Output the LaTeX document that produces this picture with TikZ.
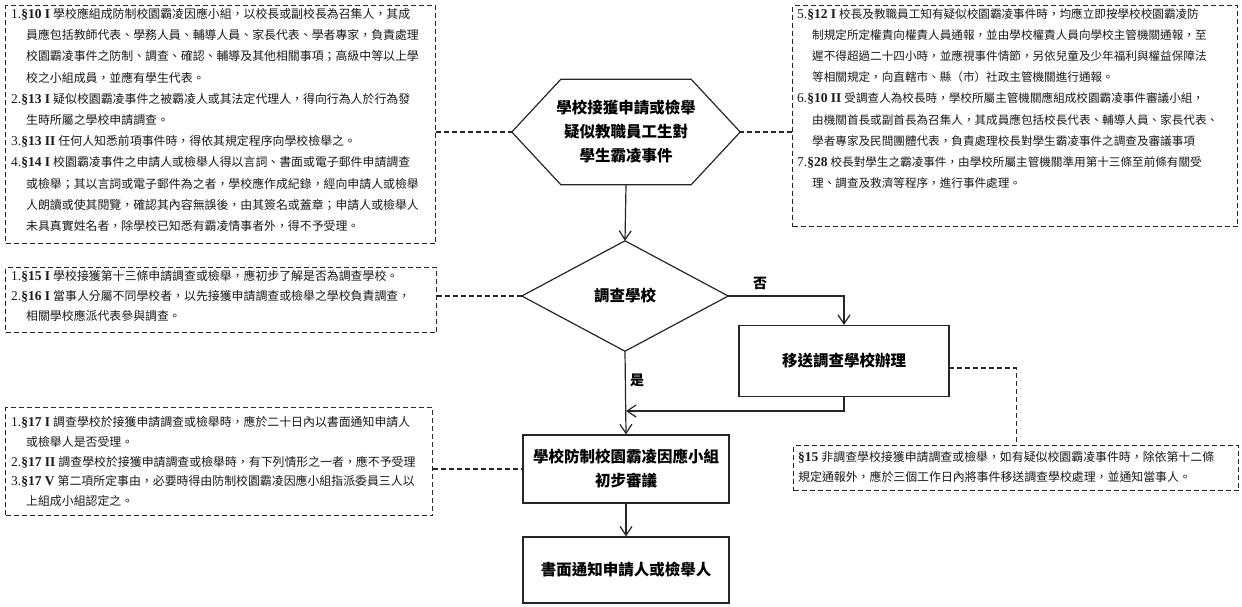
\documentclass[tikz,border=0pt]{standalone}
\usepackage{fontspec}
\setmainfont{Noto Sans CJK TC}
\newfontfamily\latf{Liberation Serif}
\usetikzlibrary{arrows.meta}
\newcommand{\pfx}[2]{{\latf\fontsize{13.5}{13.5}\selectfont #1\textbf{#2}}\hspace{3pt}}
\newcommand{\ind}{\hspace*{15pt}}
\begin{document}
\begin{tikzpicture}[x=1pt,y=-1pt,
  notebox/.style={draw=black!85, dash pattern=on 5pt off 3pt, line width=1.1pt, anchor=north west, inner sep=0pt},
  notetext/.style={anchor=north west, inner sep=0pt, align=left, text=black!90},
  flowbox/.style={draw=black!85, line width=1.2pt, inner sep=0pt, align=center, font=\fontsize{15.5}{24}\selectfont\bfseries},
  shapebox/.style={inner sep=0pt, align=center, font=\fontsize{15.5}{24}\selectfont\bfseries},
  outline/.style={draw=black!85, line width=1.2pt, line join=miter},
  arr/.style={draw=black!85, line width=1.2pt, -{Straight Barb[length=9pt,width=12pt]}},
  dl/.style={draw=black!85, line width=1.1pt, dash pattern=on 5pt off 3pt},
  lbl/.style={inner sep=0pt, font=\fontsize{14}{14}\selectfont\bfseries}
]
\useasboundingbox (0,0) rectangle (1242,606);

% ---------- note boxes ----------
\node[notebox, minimum width=430pt, minimum height=238pt] (n1) at (5,5) {};
\node[notetext, font=\fontsize{11.9}{21.2}\selectfont] (t1) at (11,8) {%
\pfx{1.}{§10 I}學校應組成防制校園霸凌因應小組，以校長或副校長為召集人，其成\\
\ind 員應包括教師代表、學務人員、輔導人員、家長代表、學者專家，負責處理\\
\ind 校園霸凌事件之防制、調查、確認、輔導及其他相關事項；高級中等以上學\\
\ind 校之小組成員，並應有學生代表。\\
\pfx{2.}{§13 I}疑似校園霸凌事件之被霸凌人或其法定代理人，得向行為人於行為發\\
\ind 生時所屬之學校申請調查。\\
\pfx{3.}{§13 II}任何人知悉前項事件時，得依其規定程序向學校檢舉之。\\
\pfx{4.}{§14 I}校園霸凌事件之申請人或檢舉人得以言詞、書面或電子郵件申請調查\\
\ind 或檢舉；其以言詞或電子郵件為之者，學校應作成紀錄，經向申請人或檢舉\\
\ind 人朗讀或使其閱覽，確認其內容無誤後，由其簽名或蓋章；申請人或檢舉人\\
\ind 未具真實姓名者，除學校已知悉有霸凌情事者外，得不予受理。};

\node[notebox, minimum width=445pt, minimum height=221pt] (n2) at (792,5) {};
\node[notetext, font=\fontsize{11.6}{21.2}\selectfont] (t2) at (797,8) {%
\pfx{5.}{§12 I}校長及教職員工知有疑似校園霸凌事件時，均應立即按學校校園霸凌防\\
\ind 制規定所定權責向權責人員通報，並由學校權責人員向學校主管機關通報，至\\
\ind 遲不得超過二十四小時，並應視事件情節，另依兒童及少年福利與權益保障法\\
\ind 等相關規定，向直轄市、縣（市）社政主管機關進行通報。\\
\pfx{6.}{§10 II}受調查人為校長時，學校所屬主管機關應組成校園霸凌事件審議小組，\\
\ind 由機關首長或副首長為召集人，其成員應包括校長代表、輔導人員、家長代表、\\
\ind 學者專家及民間團體代表，負責處理校長對學生霸凌事件之調查及審議事項\\
\pfx{7.}{§28}校長對學生之霸凌事件，由學校所屬主管機關準用第十三條至前條有關受\\
\ind 理、調查及救濟等程序，進行事件處理。};

\node[notebox, minimum width=431pt, minimum height=65pt] (n3) at (5,267) {};
\node[notetext, font=\fontsize{11.9}{20}\selectfont] (t3) at (11,270) {%
\pfx{1.}{§15 I}學校接獲第十三條申請調查或檢舉，應初步了解是否為調查學校。\\
\pfx{2.}{§16 I}當事人分屬不同學校者，以先接獲申請調查或檢舉之學校負責調查，\\
\ind 相關學校應派代表參與調查。};

\node[notebox, minimum width=427pt, minimum height=108pt] (n4) at (5,407) {};
\node[notetext, font=\fontsize{11.9}{19.8}\selectfont] (t4) at (11,416) {%
\pfx{1.}{§17 I}調查學校於接獲申請調查或檢舉時，應於二十日內以書面通知申請人\\
\ind 或檢舉人是否受理。\\
\pfx{2.}{§17 II}調查學校於接獲申請調查或檢舉時，有下列情形之一者，應不予受理\\
\pfx{3.}{§17 V}第二項所定事由，必要時得由防制校園霸凌因應小組指派委員三人以\\
\ind 上組成小組認定之。};

\node[notebox, minimum width=445pt, minimum height=45pt] (n5) at (793,445) {};
\node[notetext, font=\fontsize{11.9}{20}\selectfont] (t5) at (798,451) {%
\pfx{}{§15}非調查學校接獲申請調查或檢舉，如有疑似校園霸凌事件時，除依第十二條\\
規定通報外，應於三個工作日內將事件移送調查學校處理，並通知當事人。};

% ---------- flow shapes ----------
\node[shapebox, minimum width=228pt, minimum height=105pt] (hex) at (626,132)
  {學校接獲申請或檢舉\\疑似教職員工生對\\學生霸凌事件};
\draw[outline] (hex.west) -- ([xshift=49pt]hex.north west) -- ([xshift=-49pt]hex.north east)
  -- (hex.east) -- ([xshift=-49pt]hex.south east) -- ([xshift=49pt]hex.south west) -- cycle;

\node[shapebox, minimum width=206pt, minimum height=110pt] (dia) at (625,296) {調查學校};
\draw[outline] (dia.west) -- (dia.north) -- (dia.east) -- (dia.south) -- cycle;

\node[flowbox, minimum width=210pt, minimum height=71pt] (b1) at (844,361) {移送調查學校辦理};
\node[flowbox, minimum width=206pt, minimum height=68pt] (b2) at (626,469) {學校防制校園霸凌因應小組\\初步審議};
\node[flowbox, minimum width=206pt, minimum height=66pt] (b3) at (626,570) {書面通知申請人或檢舉人};

% ---------- connectors ----------
\draw[arr] (hex.south) -- (dia.north);
\draw[arr] (dia.east) -| (b1.north);
\draw[arr] (dia.south) -- (b2.north);
\coordinate (m) at (626,411);
\draw[arr] (b1.south) |- (m);
\draw[arr] (b2.south) -- (b3.north);

\node[lbl] (no) at (760,283) {否};
\node[lbl] (yes) at (637,380) {是};

\draw[dl] (n1.east |- hex.west) -- (hex.west);
\draw[dl] (n2.west |- hex.east) -- (hex.east);
\draw[dl] (n3.east |- dia.west) -- (dia.west);
\draw[dl] (n4.east |- b2.west) -- (b2.west);
\coordinate (b1r) at (949,368);
\draw[dl] (b1r) -| (n5.north);
\end{tikzpicture}
\end{document}
